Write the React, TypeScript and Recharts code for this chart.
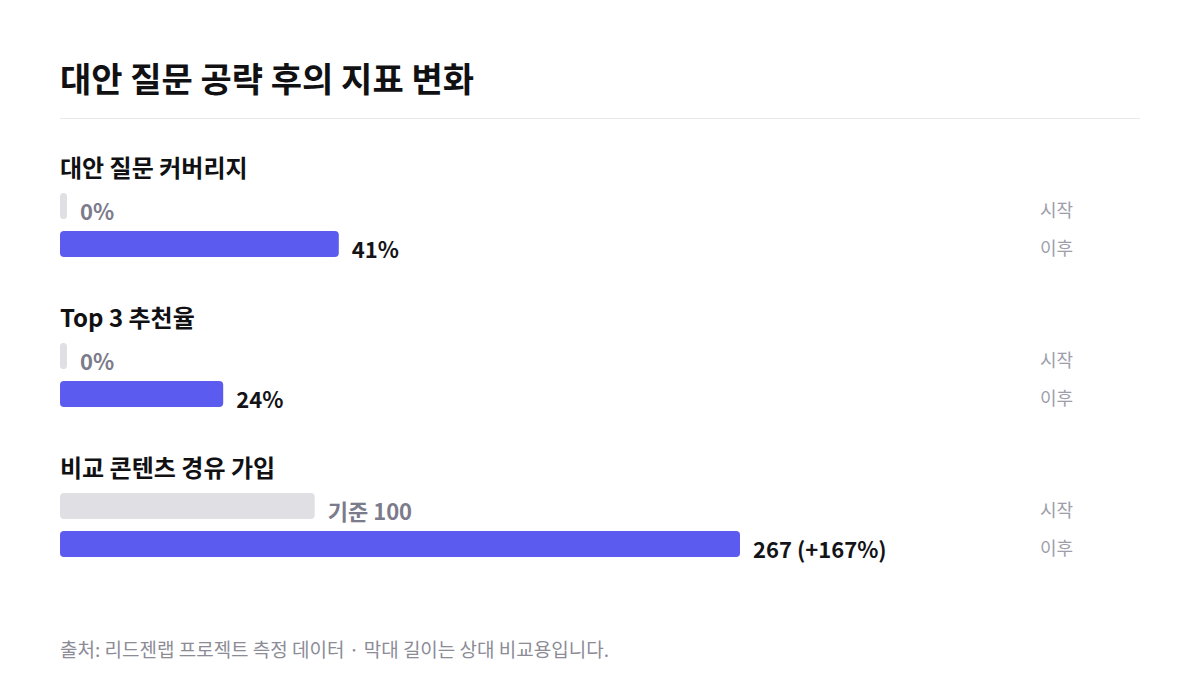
import React from 'react';
import { BarChart, Bar, XAxis, YAxis, Cell, LabelList } from 'recharts';

const chartTitle = '대안 질문 공략 후의 지표 변화';
const footnote = '출처: 리드젠랩 프로젝트 측정 데이터 · 막대 길이는 상대 비교용입니다.';
const groupTitles = ['대안 질문 커버리지', 'Top 3 추천율', '비교 콘텐츠 경유 가입'];
const rowNames = ['시작', '이후'];
const startValues = [0, 0, 100];
const afterValues = [41, 24, 267];
const startLabels = ['0%', '0%', '기준 100'];
const afterLabels = ['41%', '24%', '267 (+167%)'];
const axisMax = [100, 100, 267];

const FONT = '"Noto Sans CJK KR", "Noto Sans", sans-serif';
const BAR_COLORS = ['#dfdfe4', '#5b5bef'];
const LABEL_COLORS = ['#7b7b8b', '#141418'];

const RightTick = (props: any) => {
  const { x, y, payload } = props;
  return (
    <text x={x} y={y + 11} fill="#9e9eaa" fontSize={18} fontFamily={FONT} textAnchor="start">
      {payload.value}
    </text>
  );
};

const makeLabel = (texts: string[]) => (props: any) => {
  const { x, y, width, height, index } = props;
  const i = index ?? 0;
  return (
    <text
      x={Number(x) + Number(width) + 13}
      y={Number(y) + Number(height) + 0.5}
      fill={LABEL_COLORS[i]}
      fontSize={22}
      fontWeight={700}
      fontFamily={FONT}
      textAnchor="start"
    >
      {texts[i]}
    </text>
  );
};

function Group({ gi }: { gi: number }) {
  const data = rowNames.map((name, i) => ({
    name,
    value: i === 0 ? startValues[gi] : afterValues[gi],
  }));
  const texts = [startLabels[gi], afterLabels[gi]];
  return (
    <BarChart
      width={1080}
      height={76}
      data={data}
      layout="vertical"
      margin={{ top: 0, right: 0, bottom: 0, left: 0 }}
    >
      <XAxis type="number" hide domain={[0, axisMax[gi]]} />
      <YAxis
        type="category"
        dataKey="name"
        orientation="right"
        width={400}
        axisLine={false}
        tickLine={false}
        tickSize={0}
        tickMargin={300}
        tick={<RightTick />}
      />
      <Bar dataKey="value" barSize={26} radius={4} minPointSize={7} isAnimationActive={false}>
        {data.map((d, i) => (
          <Cell key={d.name} fill={BAR_COLORS[i]} />
        ))}
        <LabelList dataKey="value" content={makeLabel(texts)} />
      </Bar>
    </BarChart>
  );
}

export default function App() {
  return (
    <div
      style={{
        position: 'absolute',
        left: 0,
        top: 0,
        width: 1200,
        height: 690,
        background: '#ffffff',
        fontFamily: FONT,
        overflow: 'hidden',
      }}
    >
      <div
        style={{
          position: 'absolute',
          left: 60,
          top: 60.8,
          fontSize: 34,
          lineHeight: '34px',
          fontWeight: 700,
          color: '#111114',
          whiteSpace: 'nowrap',
        }}
      >
        {chartTitle}
      </div>
      <div style={{ position: 'absolute', left: 60, top: 118, width: 1080, height: 1, background: '#e7e7ec' }} />
      {groupTitles.map((t, gi) => (
        <React.Fragment key={t}>
          <div
            style={{
              position: 'absolute',
              left: 60,
              top: 155 + gi * 150,
              fontSize: 24,
              lineHeight: '24px',
              fontWeight: 700,
              color: '#111114',
              whiteSpace: 'nowrap',
            }}
          >
            {t}
          </div>
          <div style={{ position: 'absolute', left: 60, top: 186.5 + gi * 150 }}>
            <Group gi={gi} />
          </div>
        </React.Fragment>
      ))}
      <div
        style={{
          position: 'absolute',
          left: 60,
          top: 639,
          fontSize: 19,
          lineHeight: '19px',
          color: '#8c8c97',
          whiteSpace: 'nowrap',
        }}
      >
        {footnote}
      </div>
    </div>
  );
}
